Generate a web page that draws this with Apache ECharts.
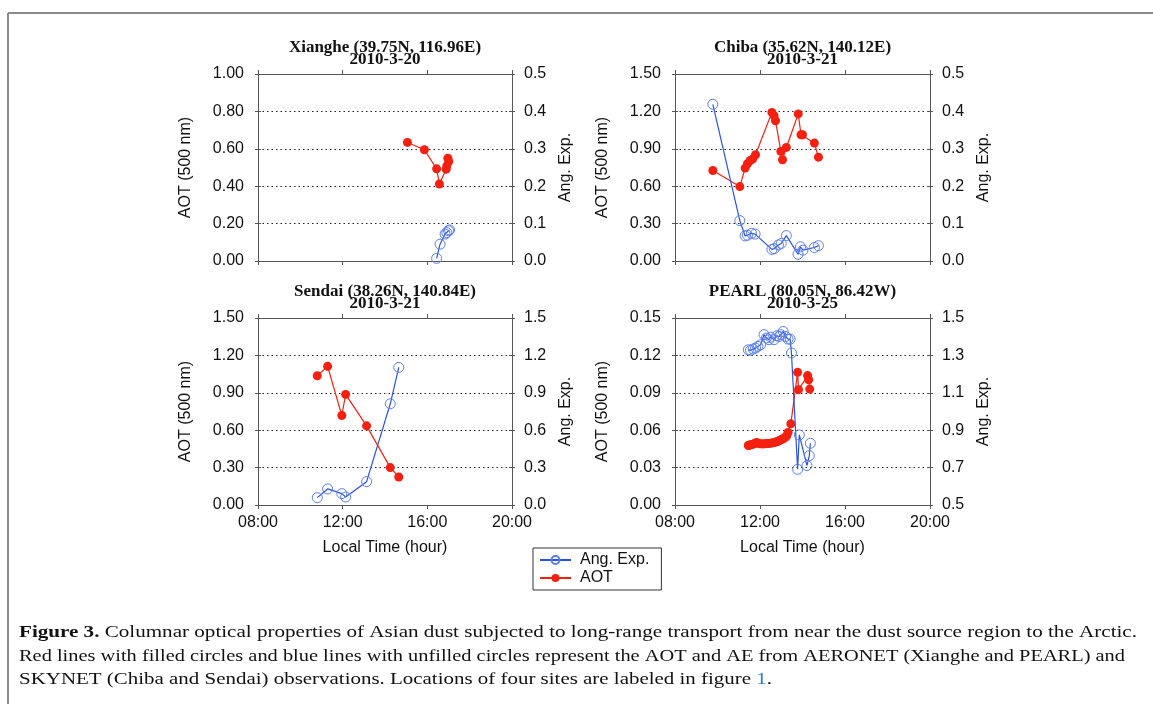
<!DOCTYPE html>
<html><head><meta charset="utf-8">
<script src="https://cdn.jsdelivr.net/npm/echarts@6/dist/echarts.min.js"></script>
<style>html,body{margin:0;padding:0;background:#fff}#c{width:1153px;height:704px}</style>
</head><body><div id="c"></div><script>
// ---------------- DATA ----------------
const siteTitles = ['Xianghe (39.75N, 116.96E)', 'Chiba (35.62N, 140.12E)', 'Sendai (38.26N, 140.84E)', 'PEARL (80.05N, 86.42W)'];
const siteDates = ['2010-3-20', '2010-3-21', '2010-3-21', '2010-3-25'];
const xTicks = [8, 12, 16, 20];

// Xianghe
const xiangheAotTime = [15.06, 15.86, 16.44, 16.57, 16.89, 16.92, 17.01, 16.97];
const xiangheAot     = [0.634, 0.595, 0.493, 0.412, 0.491, 0.509, 0.532, 0.550];
const xiangheAeTime  = [16.44, 16.60, 16.84, 16.92, 17.00, 17.05];
const xiangheAe      = [0.007, 0.045, 0.072, 0.076, 0.081, 0.083];

// Chiba
const chibaAotTime = [9.78, 11.05, 11.30, 11.41, 11.54, 11.65, 11.79, 12.56, 12.66, 12.73, 12.98, 13.06, 13.24, 13.80, 13.93, 14.00, 14.56, 14.75];
const chibaAot     = [0.726, 0.597, 0.745, 0.780, 0.806, 0.817, 0.852, 1.192, 1.166, 1.125, 0.879, 0.812, 0.911, 1.180, 1.013, 1.013, 0.946, 0.833];
const chibaAeTime  = [9.78, 11.05, 11.30, 11.41, 11.60, 11.77, 12.56, 12.67, 12.87, 13.00, 13.24, 13.79, 13.90, 14.02, 14.56, 14.75];
const chibaAe      = [0.419, 0.108, 0.067, 0.069, 0.074, 0.072, 0.031, 0.033, 0.043, 0.047, 0.068, 0.018, 0.038, 0.029, 0.036, 0.041];

// Sendai
const sendaiTime = [10.80, 11.29, 11.96, 12.14, 13.13, 14.25, 14.65];
const sendaiAot  = [1.037, 1.112, 0.718, 0.887, 0.635, 0.300, 0.225];
const sendaiAe   = [0.059, 0.129, 0.091, 0.064, 0.187, 0.812, 1.104];

// PEARL
const pearlAotTime = [11.45, 11.50, 11.55, 11.62, 11.68, 11.76, 11.84, 11.92, 12.00, 12.10, 12.19, 12.27, 12.35, 12.42, 12.50, 12.58, 12.66, 12.74, 12.82, 12.90, 12.98, 13.06, 13.13, 13.20, 13.26, 13.32, 13.45, 13.77, 13.81, 14.24, 14.29, 14.34];
const pearlAot     = [0.0477, 0.0480, 0.0483, 0.0486, 0.0488, 0.0495, 0.0501, 0.0495, 0.0491, 0.0490, 0.0491, 0.0492, 0.0493, 0.0494, 0.0496, 0.0498, 0.0501, 0.0505, 0.0509, 0.0515, 0.0523, 0.0529, 0.0536, 0.0545, 0.0555, 0.0582, 0.0651, 0.1064, 0.0925, 0.1038, 0.1005, 0.0930];
const pearlAeTime  = [11.45, 11.55, 11.68, 11.79, 11.90, 12.03, 12.19, 12.30, 12.42, 12.50, 12.66, 12.79, 12.90, 12.98, 13.09, 13.21, 13.32, 13.42, 13.48, 13.77, 13.85, 14.21, 14.32, 14.37];
const pearlAe      = [1.330, 1.327, 1.334, 1.339, 1.348, 1.357, 1.411, 1.393, 1.384, 1.398, 1.384, 1.405, 1.401, 1.411, 1.428, 1.401, 1.387, 1.387, 1.313, 0.691, 0.875, 0.711, 0.764, 0.830];

// Axis ranges (min, max, interval, decimals)
const aotAxes = [[0, 1.0, 0.2, 2], [0, 1.5, 0.3, 2], [0, 1.5, 0.3, 2], [0, 0.15, 0.03, 2]];
const aeAxes  = [[0, 0.5, 0.1, 1], [0, 0.5, 0.1, 1], [0, 1.5, 0.3, 1], [0.5, 1.5, 0.2, 1]];

const captionLines = [
  ['Figure 3.', ' Columnar optical properties of Asian dust subjected to long-range transport from near the dust source region to the Arctic.'],
  ['', 'Red lines with filled circles and blue lines with unfilled circles represent the AOT and AE from AERONET (Xianghe and PEARL) and'],
  ['', 'SKYNET (Chiba and Sendai) observations. Locations of four sites are labeled in figure ', '1', '.']
];

// ---------------- BUILD ----------------
const zip = (t, v) => t.map((x, i) => [x, v[i]]);
const panels = [
  { aot: zip(xiangheAotTime, xiangheAot), ae: zip(xiangheAeTime, xiangheAe) },
  { aot: zip(chibaAotTime, chibaAot), ae: zip(chibaAeTime, chibaAe) },
  { aot: zip(sendaiTime, sendaiAot), ae: zip(sendaiTime, sendaiAe) },
  { aot: zip(pearlAotTime, pearlAot), ae: zip(pearlAeTime, pearlAe) }
];

const RED = '#f5200f', BLUE = '#2a52e6', BLUE_C = '#5a7ef2', AX = '#555';
const FONT = '"Liberation Sans", Arial, sans-serif';
const SERIF = '"Liberation Serif", "Times New Roman", serif';
const grids = [
  { left: 258, top: 74, width: 254, height: 187 },
  { left: 675, top: 74, width: 255, height: 187 },
  { left: 258, top: 318, width: 254, height: 187 },
  { left: 675, top: 318, width: 255, height: 187 }
];
const titleTops = [41, 41, 285, 285];

const xAxis = [], yAxis = [], series = [], title = [];
grids.forEach((g, i) => {
  const showX = i >= 2;
  xAxis.push({
    type: 'value', gridIndex: i, position: 'bottom', min: 8, max: 20, interval: 4,
    axisLine: { show: true, onZero: false, lineStyle: { color: AX, width: 1 } },
    axisTick: { show: true, inside: false, length: 4, lineStyle: { color: AX } },
    splitLine: { show: false },
    axisLabel: { show: showX, fontFamily: FONT, fontSize: 16, color: '#111', margin: 10,
      formatter: v => (v < 10 ? '0' : '') + v + ':00' },
    name: showX ? 'Local Time (hour)' : '', nameLocation: 'middle', nameGap: 35,
    nameTextStyle: { fontFamily: FONT, fontSize: 16, color: '#111' }
  });
  xAxis.push({
    type: 'value', gridIndex: i, position: 'top', min: 8, max: 20, interval: 4,
    axisLine: { show: true, onZero: false, lineStyle: { color: AX, width: 1 } },
    axisTick: { show: true, inside: false, length: 4, lineStyle: { color: AX } },
    splitLine: { show: false }, axisLabel: { show: false }
  });
  const [a0, a1, ai, ad] = aotAxes[i];
  const [b0, b1, bi, bd] = aeAxes[i];
  yAxis.push({
    type: 'value', gridIndex: i, position: 'left', min: a0, max: a1, interval: ai,
    axisLine: { show: true, onZero: false, lineStyle: { color: AX, width: 1 } },
    axisTick: { show: true, inside: false, length: 3, lineStyle: { color: AX } },
    splitLine: { show: true, lineStyle: { type: [1.5, 3], color: '#222', width: 1 } },
    axisLabel: { fontFamily: FONT, fontSize: 16, color: '#111', margin: 14, formatter: v => v.toFixed(ad) },
    name: 'AOT (500 nm)', nameLocation: 'middle', nameRotate: 90, nameGap: 64,
    nameTextStyle: { fontFamily: FONT, fontSize: 16, color: '#111' }
  });
  yAxis.push({
    type: 'value', gridIndex: i, position: 'right', min: b0, max: b1, interval: bi,
    axisLine: { show: true, onZero: false, lineStyle: { color: AX, width: 1 } },
    axisTick: { show: true, inside: false, length: 3, lineStyle: { color: AX } },
    splitLine: { show: false },
    axisLabel: { fontFamily: FONT, fontSize: 16, color: '#111', margin: 12, formatter: v => v.toFixed(bd) },
    name: 'Ang. Exp.', nameLocation: 'middle', nameRotate: 90, nameGap: 46,
    nameTextStyle: { fontFamily: FONT, fontSize: 16, color: '#111' }
  });
  // inner halves of the crossing ticks
  yAxis.push({
    type: 'value', gridIndex: i, position: 'left', min: a0, max: a1, interval: ai,
    axisLine: { show: false }, axisLabel: { show: false }, splitLine: { show: false },
    axisTick: { show: true, inside: true, length: 3, lineStyle: { color: AX } }
  });
  yAxis.push({
    type: 'value', gridIndex: i, position: 'right', min: b0, max: b1, interval: bi,
    axisLine: { show: false }, axisLabel: { show: false }, splitLine: { show: false },
    axisTick: { show: true, inside: true, length: 3, lineStyle: { color: AX } }
  });
  series.push({
    type: 'line', name: 'AOT', xAxisIndex: 2 * i, yAxisIndex: 4 * i,
    data: panels[i].aot, symbol: 'circle', symbolSize: 9,
    itemStyle: { color: RED }, lineStyle: { color: RED, width: 1.2 }, z: 3, animation: false
  });
  series.push({
    type: 'line', name: 'Ang. Exp.', xAxisIndex: 2 * i, yAxisIndex: 4 * i + 1,
    data: panels[i].ae, symbol: 'circle', symbolSize: 10,
    itemStyle: { color: 'rgba(255,255,255,0)', borderColor: BLUE_C, borderWidth: 1 },
    lineStyle: { color: BLUE, width: 1.2 }, z: 4, animation: false
  });
  title.push({
    text: siteTitles[i] + '\n' + siteDates[i], left: g.left + g.width / 2, top: titleTops[i],
    textAlign: 'center', padding: 0,
    textStyle: { fontFamily: SERIF, fontWeight: 'bold', fontSize: 17, lineHeight: 12.5, color: '#111' }
  });
});

// caption: each line stretched to the reference line width
const CAP_FS = 17;
const capTargets = [1118, 1106, 753];
const cv = document.createElement('canvas').getContext('2d');
function lineWidth(ln) {
  let w = 0;
  cv.font = 'bold ' + CAP_FS + 'px "Liberation Serif"';
  w += cv.measureText(ln[0]).width;
  cv.font = CAP_FS + 'px "Liberation Serif"';
  w += cv.measureText(ln[1] + (ln[2] || '') + (ln[3] || '')).width;
  return w;
}
const graphic = [
  { type: 'line', shape: { x1: 8, y1: 13, x2: 1153, y2: 13 }, style: { stroke: '#8a8a8a', lineWidth: 2 } },
  { type: 'line', shape: { x1: 8, y1: 13, x2: 8, y2: 704 }, style: { stroke: '#8a8a8a', lineWidth: 2 } }
];
const capY = [633, 657, 680];
captionLines.forEach((ln, k) => {
  let txt = '';
  if (ln[0]) txt += '{b|' + ln[0] + '}';
  txt += '{r|' + ln[1] + '}';
  if (ln[2]) txt += '{l|' + ln[2] + '}{r|' + ln[3] + '}';
  const sx = capTargets[k] / lineWidth(ln);
  graphic.push({
    type: 'text', x: 19, y: capY[k], scaleX: sx, scaleY: 1, originX: 0, originY: 0,
    style: {
      text: txt, verticalAlign: 'middle', fill: '#111',
      rich: {
        b: { fontFamily: SERIF, fontWeight: 'bold', fontSize: CAP_FS, fill: '#111' },
        r: { fontFamily: SERIF, fontSize: CAP_FS, fill: '#111' },
        l: { fontFamily: SERIF, fontSize: CAP_FS, fill: '#2a7fc9' }
      }
    }
  });
});

const chart = echarts.init(document.getElementById('c'), null, { renderer: 'canvas' });
chart.setOption({
  backgroundColor: '#fff',
  animation: false,
  title, grid: grids, xAxis, yAxis, series, graphic,
  legend: {
    data: ['Ang. Exp.', 'AOT'], orient: 'vertical', left: 533, top: 548,
    padding: [4, 12, 4, 6], itemGap: 2, itemWidth: 31, itemHeight: 10,
    borderColor: '#333', borderWidth: 1, borderRadius: 0,
    textStyle: { fontFamily: FONT, fontSize: 16, color: '#111', lineHeight: 16, padding: [0, 0, 0, 4] }
  }
});
</script></body></html>
